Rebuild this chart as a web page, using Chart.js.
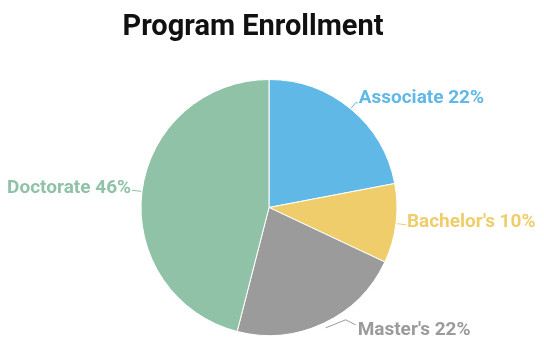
<!DOCTYPE html>
<html>
<head>
<meta charset="utf-8">
<script src="https://cdn.jsdelivr.net/npm/chart.js@4/dist/chart.umd.min.js"></script>
<style>
html,body{margin:0;padding:0;background:#fff;}
#wrap{width:544px;height:361px;position:relative;}
</style>
</head>
<body>
<div id="wrap"><canvas id="c" width="544" height="361"></canvas></div>
<script>
const titleText = "Program Enrollment";
const categories = ["Associate", "Bachelor's", "Master's", "Doctorate"];
const values = [22, 10, 22, 46];
const colors = ["#5fb8e6", "#f0cd6b", "#9b9b9b", "#8fc2a7"];

// label layout (pixels)
const labelLayout = [
  {ext: 8, tdy: -4},
  {ext: 8, tdy: -2},
  {custom: true},
  {ext: 8, tdy: -2}
];

const labelPlugin = {
  id: 'labels',
  afterDatasetsDraw(chart) {
    const ctx = chart.ctx;
    const meta = chart.getDatasetMeta(0);
    const total = values.reduce((a, b) => a + b, 0);
    ctx.save();
    ctx.font = 'bold 19px Roboto';
    ctx.textBaseline = 'middle';
    meta.data.forEach((arc, i) => {
      const p = arc.getProps(['x', 'y', 'startAngle', 'endAngle', 'outerRadius'], true);
      const mid = (p.startAngle + p.endAngle) / 2;
      const r = p.outerRadius;
      const cos = Math.cos(mid), sin = Math.sin(mid);
      const pct = Math.round(values[i] / total * 100);
      const text = categories[i] + ' ' + pct + '%';
      const L = labelLayout[i];
      ctx.strokeStyle = colors[i];
      ctx.lineWidth = 1;
      ctx.beginPath();
      let tx, ty, align;
      if (L.custom) {
        const x0 = p.x + cos * (r + 5), y0 = p.y + sin * (r + 5);
        ctx.moveTo(x0, y0);
        const x1 = x0 + 20, y1 = y0 - 8;
        const x2 = x1 + 10, y2 = y1 + 5;
        ctx.lineTo(x1, y1);
        ctx.lineTo(x2, y2);
        tx = x2 + 2; ty = y2 + 5; align = 'left';
      } else {
        const x0 = p.x + cos * (r + 1), y0 = p.y + sin * (r + 1);
        ctx.moveTo(x0, y0);
        const x1 = p.x + cos * (r + L.ext), y1 = p.y + sin * (r + L.ext);
        const right = cos >= 0;
        const x2 = x1 + (right ? 2 : -2), y2 = y1;
        ctx.lineTo(x1, y1);
        ctx.lineTo(x2, y2);
        tx = x2 + (right ? 1 : -1); ty = y2 + L.tdy; align = right ? 'left' : 'right';
      }
      ctx.stroke();
      ctx.fillStyle = colors[i];
      ctx.textAlign = align;
      ctx.fillText(text, tx, ty);
    });
    ctx.restore();
  }
};

const titlePlugin = {
  id: 'customTitle',
  afterDraw(chart) {
    const ctx = chart.ctx;
    ctx.save();
    ctx.font = 'bold 29px Roboto';
    ctx.fillStyle = '#111';
    ctx.textAlign = 'center';
    ctx.textBaseline = 'alphabetic';
    ctx.fillText(titleText, 253, 35);
    ctx.restore();
  }
};

new Chart(document.getElementById('c'), {
  type: 'pie',
  data: {
    labels: categories,
    datasets: [{
      data: values,
      backgroundColor: colors,
      borderColor: '#ffffff',
      borderWidth: 1
    }]
  },
  options: {
    responsive: false,
    animation: false,
    layout: {padding: {left: 140, right: 146, top: 79, bottom: 25}},
    plugins: {
      legend: {display: false},
      title: {display: false},
      tooltip: {enabled: false}
    }
  },
  plugins: [labelPlugin, titlePlugin]
});
</script>
</body>
</html>
